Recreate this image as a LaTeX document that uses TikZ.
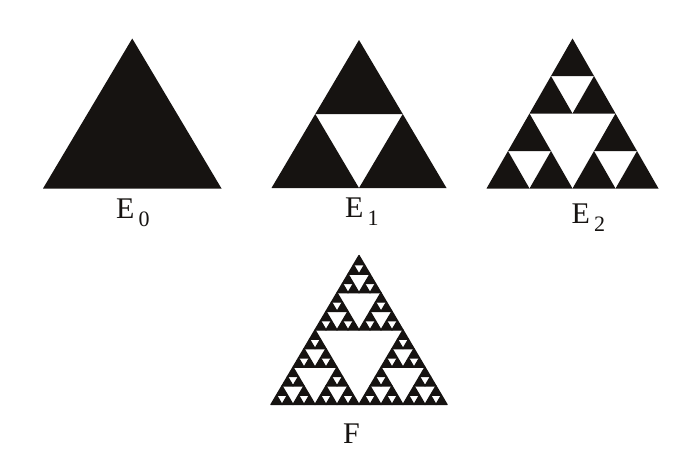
\documentclass[tikz,border=0pt]{standalone}
\usepackage{fontspec}
\setmainfont{Liberation Serif}
\definecolor{ink}{RGB}{22,19,17}
\tikzset{
  tri/.style={fill=ink},
  trithick/.style={fill=ink,draw=ink,line width=1.3pt,line join=round},
  lbl/.style={anchor=base west,inner sep=0pt,font=\fontsize{30}{30}\selectfont,text=ink}
}
\newcommand\sub[1]{\hspace{4pt}\raisebox{-8pt}{\fontsize{22}{22}\selectfont #1}}
% #1 left x, #2 base y, #3 width, #4 height, #5 depth, #6 style
\newcommand\sierpt[6]{%
  \ifnum#5=0
    \path[#6] (#1,#2) -- ++(#3,0) -- ++(-#3/2,-#4) -- cycle;
  \else
    \begingroup
    \pgfmathsetmacro\hw{#3/2}%
    \pgfmathsetmacro\hh{#4/2}%
    \pgfmathsetmacro\xa{#1+\hw}%
    \pgfmathsetmacro\xb{#1+\hw/2}%
    \pgfmathsetmacro\yb{#2-\hh}%
    \pgfmathtruncatemacro\dd{#5-1}%
    \edef\tmp{\noexpand\sierpt{#1}{#2}{\hw}{\hh}{\dd}{#6}%
      \noexpand\sierpt{\xa}{#2}{\hw}{\hh}{\dd}{#6}%
      \noexpand\sierpt{\xb}{\yb}{\hw}{\hh}{\dd}{#6}}%
    \tmp
    \endgroup
  \fi}
\begin{document}
\begin{tikzpicture}[x=1pt,y=-1pt]
\useasboundingbox[fill=white] (0,0) rectangle (692,461);
% E0
\sierpt{43}{188.5}{178.5}{150}{0}{tri}
\node[lbl] (e0) at (116,218) {E\sub{0}};
% E1
\sierpt{271.5}{188}{175}{148}{1}{tri}
\node[lbl] (e1) at (345,217) {E\sub{1}};
% E2
\sierpt{486.5}{188.5}{172}{150}{2}{tri}
\node[lbl] (e2) at (571.5,223) {E\sub{2}};
% F
\sierpt{271}{404.5}{176}{149}{4}{trithick}
\node[lbl] (f) at (343,443) {F};
\end{tikzpicture}
\end{document}
